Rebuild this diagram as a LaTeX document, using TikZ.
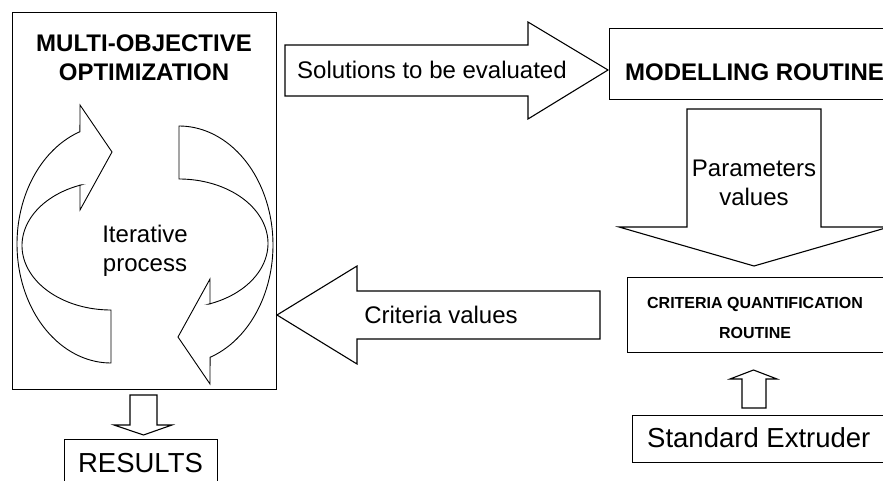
\documentclass[tikz,border=0pt]{standalone}
\usepackage{fontspec}
\setmainfont{Liberation Sans}
\begin{document}
\begin{tikzpicture}[x=1pt,y=-1pt,
  box/.style={draw, line width=1.2pt, inner sep=0pt, anchor=north west},
  blk/.style={draw, line width=1.1pt, line join=miter, fill=white},
  curv/.style={draw, line width=0.9pt, line join=miter},
  lab/.style={inner sep=0pt, align=center},
  big/.style={font=\fontsize{24}{29}\selectfont},
  bigb/.style={font=\fontsize{24}{29}\selectfont\bfseries},
  huge/.style={font=\fontsize{27.5}{33}\selectfont}]
\clip (0,0) rectangle (883,481);
\fill[white] (0,0) rectangle (883,481);

% boxes
\node[box, minimum width=264pt, minimum height=377pt] (moo) at (12,12) {};
\node[box, minimum width=290pt, minimum height=71pt] (mod) at (609,28) {};
\node[box, minimum width=270pt, minimum height=75pt] (cqr) at (627,277) {};
\node[box, minimum width=260pt, minimum height=47pt] (ext) at (632,415) {};
\node[box, minimum width=153pt, minimum height=60pt] (res) at (64,439) {};

% block arrows
\draw[blk] (285,45) -- (528,45) -- (528,22) -- (608,70) -- (528,119) -- (528,96) -- (285,96) -- cycle;
\draw[blk] (687,109) -- (821,109) -- (821,227) -- (889,227) -- (754,266) -- (619,227) -- (687,227) -- cycle;
\draw[blk] (600,291) -- (357,291) -- (357,266) -- (277,315) -- (357,364) -- (357,339) -- (600,339) -- cycle;
\draw[blk] (742,408) -- (742,379) -- (730,379) -- (753.5,370) -- (777,379) -- (766,379) -- (766,408) -- cycle;
\draw[blk] (130,395) -- (157,395) -- (157,425) -- (172,425) -- (143.5,435) -- (114,425) -- (130,425) -- cycle;

% curved arrows
\draw[curv] (111,363) -- plot[domain=90:250.7, samples=80] ({111+94*cos(\x)},{244+119*sin(\x)})
  -- (80,105) -- (112,152) -- (80,210) -- (80,185)
  -- plot[domain=250.4:90, samples=80] ({111+89*cos(\x)},{245.6+64.4*sin(\x)}) -- cycle;
\begin{scope}[rotate around={180:(145,244.5)}]
\draw[curv] (111,363) -- plot[domain=90:250.7, samples=80] ({111+94*cos(\x)},{244+119*sin(\x)})
  -- (80,105) -- (112,152) -- (80,210) -- (80,185)
  -- plot[domain=250.4:90, samples=80] ({111+89*cos(\x)},{245.6+64.4*sin(\x)}) -- cycle;
\end{scope}

% texts
\node[lab, bigb] (mootxt) at (144,57.5) {MULTI-OBJECTIVE\\OPTIMIZATION};
\node[lab, big] (ittxt) at (145,251) {Iterative\\process};
\node[lab, big, anchor=west] (soltxt) at (297,70) {Solutions to be evaluated};
\node[lab, bigb, anchor=west] (modtxt) at (625,72) {MODELLING ROUTINE};
\node[lab, big] (partxt) at (754,183) {Parameters\\values};
\node[lab, big] (crvtxt) at (441,315) {Criteria values};
\node[lab, font=\fontsize{16}{30}\selectfont\bfseries] (cqrtxt) at (755,318) {CRITERIA QUANTIFICATION\\ROUTINE};
\node[lab, huge, anchor=west] (exttxt) at (647,438) {Standard Extruder};
\node[lab, huge] (restxt) at (140.5,463) {RESULTS};
\end{tikzpicture}
\end{document}
